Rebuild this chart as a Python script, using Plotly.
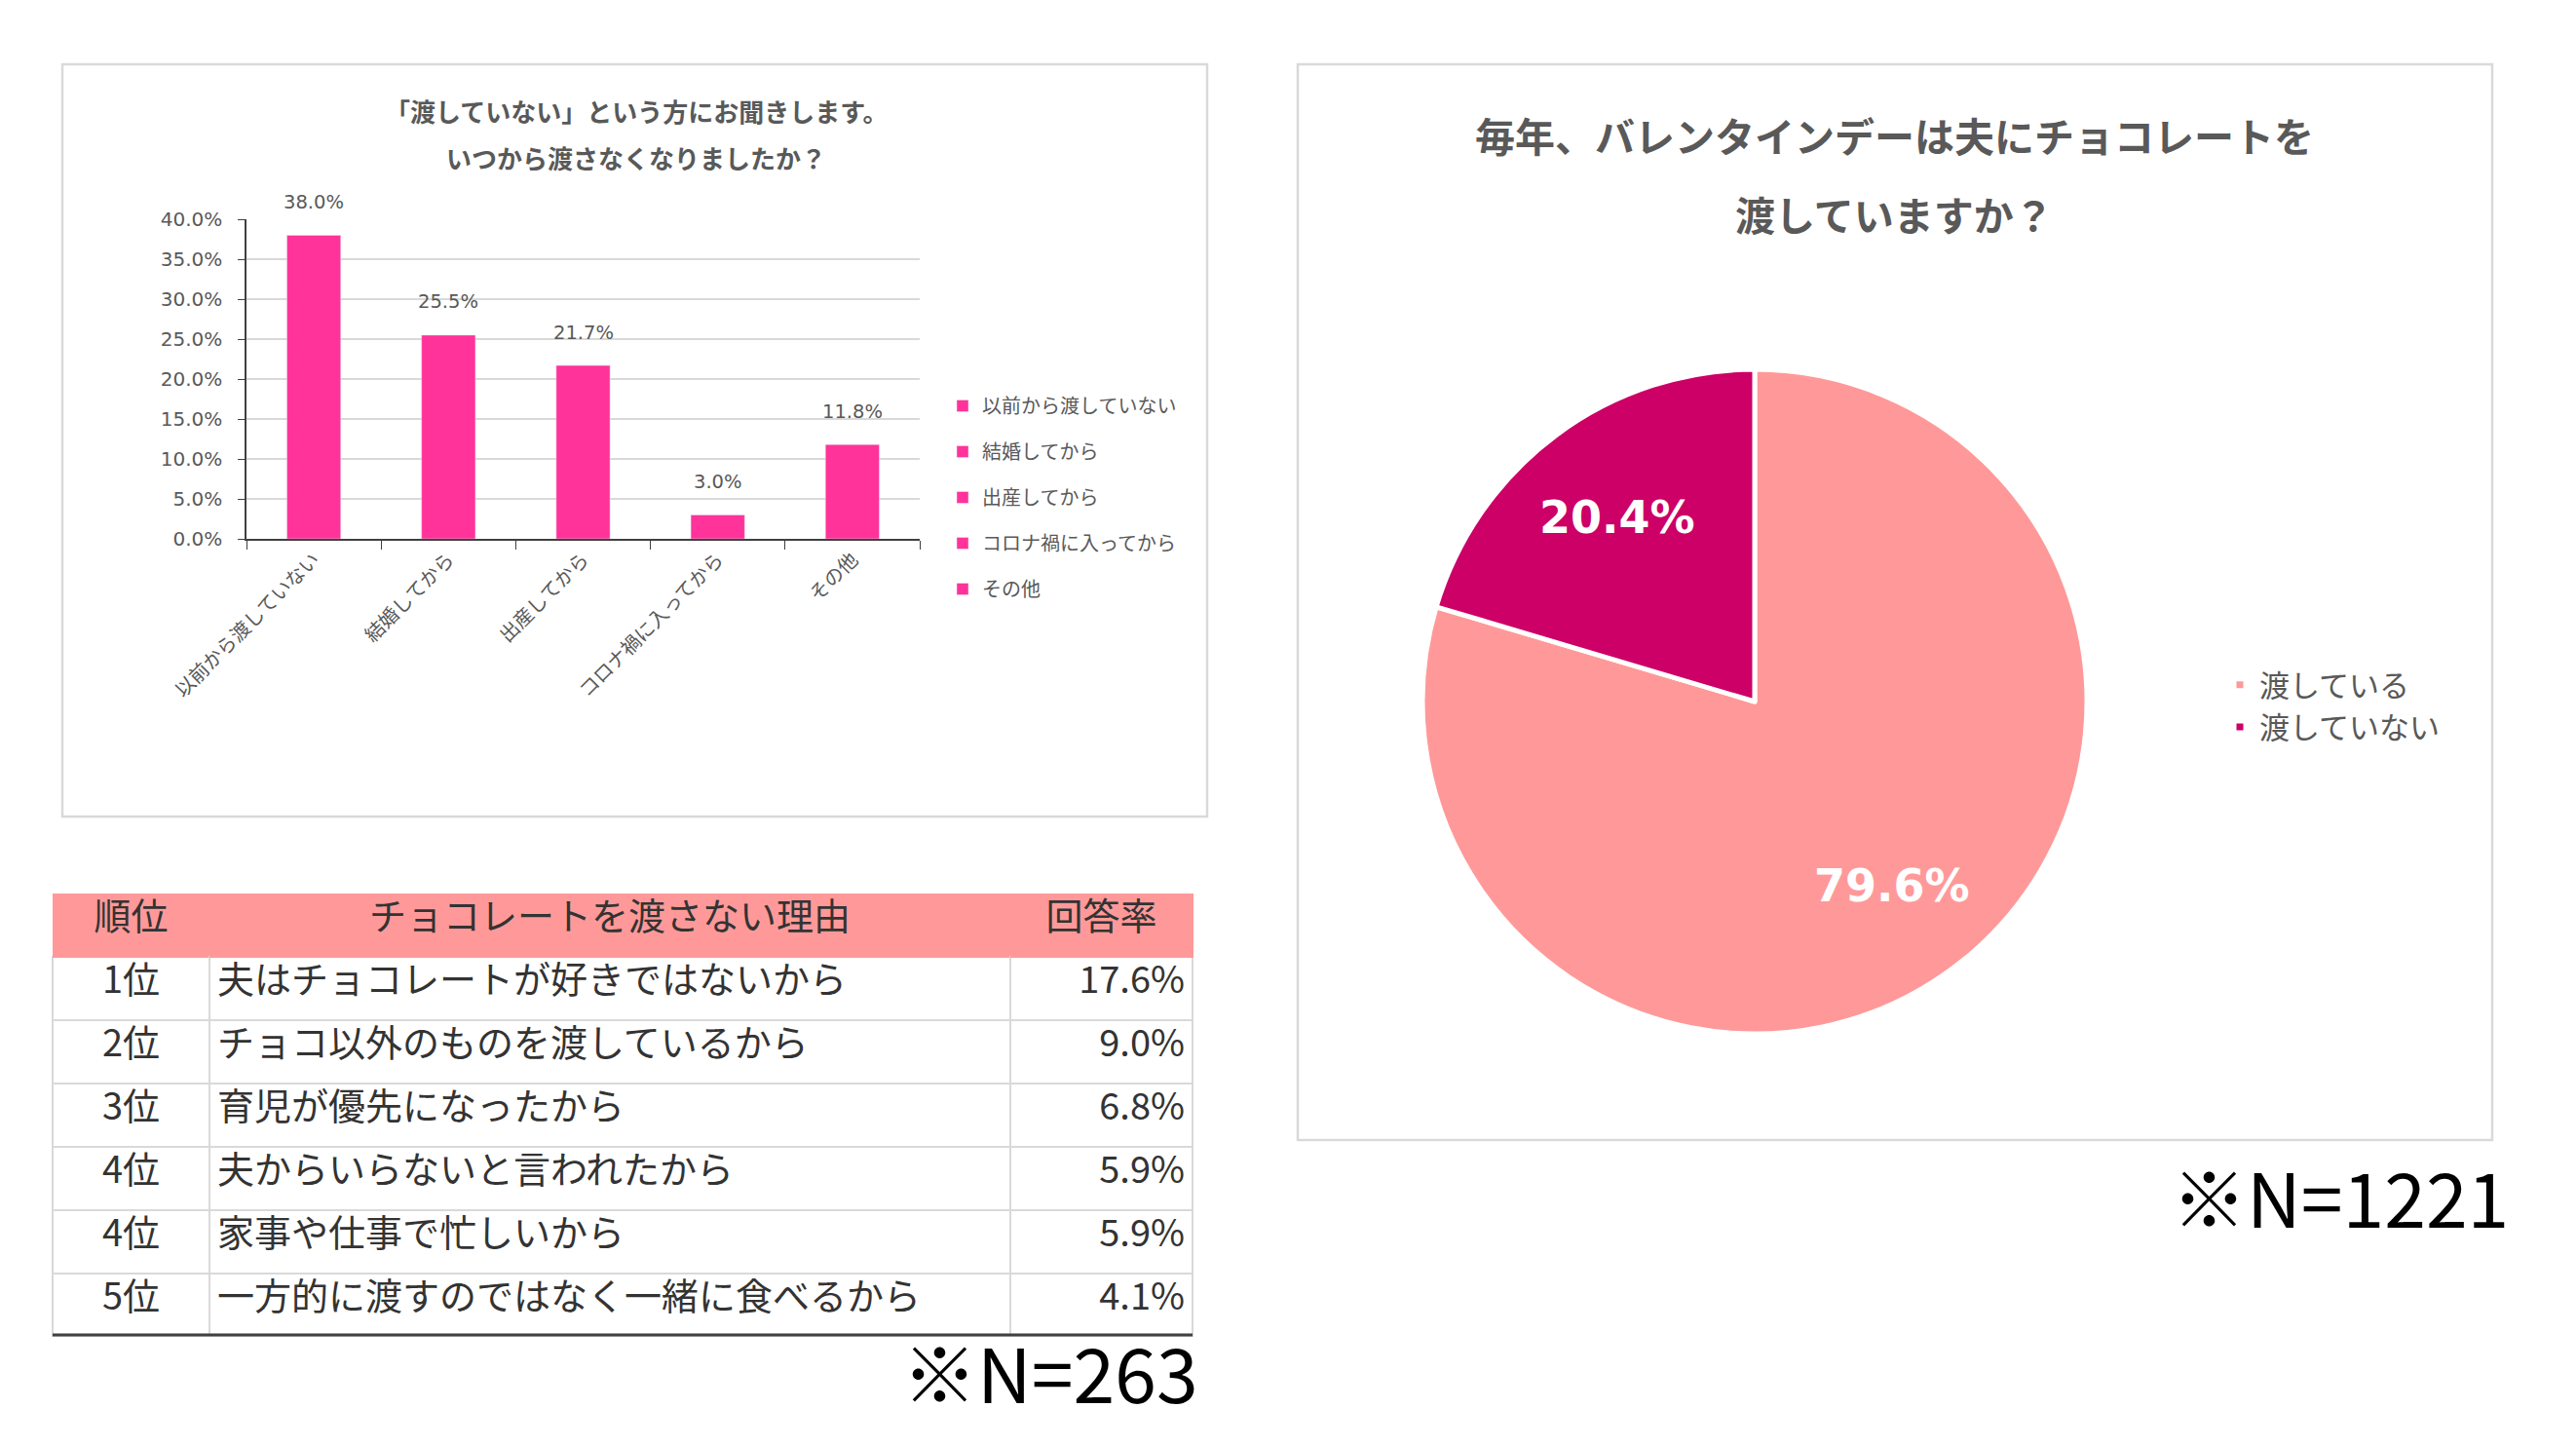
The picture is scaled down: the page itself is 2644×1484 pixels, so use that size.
import math
import plotly.graph_objects as go

W, H = 2644, 1484
OFF = 8  # page body margin the figure is drawn with

# ---------------- data ----------------
bar_title_lines = ["「渡していない」という方にお聞きします。", "いつから渡さなくなりましたか？"]
bar_categories = ["以前から渡していない", "結婚してから", "出産してから", "コロナ禍に入ってから", "その他"]
bar_values = [38.0, 25.5, 21.7, 3.0, 11.8]

pie_title_lines = ["毎年、バレンタインデーは夫にチョコレートを", "渡していますか？"]
pie_labels = ["渡している", "渡していない"]
pie_values = [79.6, 20.4]
pie_note = "※N=1221"

table_header = ["順位", "チョコレートを渡さない理由", "回答率"]
table_ranks = ["1位", "2位", "3位", "4位", "4位", "5位"]
table_reasons = [
    "夫はチョコレートが好きではないから",
    "チョコ以外のものを渡しているから",
    "育児が優先になったから",
    "夫からいらないと言われたから",
    "家事や仕事で忙しいから",
    "一方的に渡すのではなく一緒に食べるから",
]
table_rates = ["17.6%", "9.0%", "6.8%", "5.9%", "5.9%", "4.1%"]
table_note = "※N=263"

# ---------------- helpers ----------------
FONT = "Noto Sans CJK JP"
NUMFONT = "DejaVu Sans, Noto Sans CJK JP"
GRAY = "#595959"


def px(x):
    return (x - OFF) / W


def py(y):
    return 1 - (y - OFF) / H


fig = go.Figure()

# bar chart: one trace per category so each gets its own legend entry
for cat, val in zip(bar_categories, bar_values):
    fig.add_trace(go.Bar(
        x=[cat], y=[val], name=cat, width=0.4,
        marker=dict(color="#FF3399"),
        legend="legend", legendgroup=cat,
        xaxis="x", yaxis="y", hoverinfo="skip",
    ))
    # value label, placed through the axis scales above the bar
    fig.add_annotation(x=cat, y=val, xref="x", yref="y", text=f"{val:.1f}%",
                       showarrow=False, yanchor="middle", yshift=34,
                       font=dict(size=19.5, color=GRAY, family=NUMFONT))

# pie
PIE_CX, PIE_CY, PIE_R = 1801, 720, 341
fig.add_trace(go.Pie(
    labels=pie_labels, values=pie_values, sort=False, direction="clockwise",
    rotation=0,
    marker=dict(colors=["#FF9999", "#CC0066"], line=dict(color="white", width=5)),
    textinfo="none",
    domain=dict(x=[px(PIE_CX - PIE_R), px(PIE_CX + PIE_R)],
                y=[py(PIE_CY + PIE_R), py(PIE_CY - PIE_R)]),
    legend="legend2", hoverinfo="skip",
))
# slice labels at each slice's mid-angle (derived from the values)
total = sum(pie_values)
cum = 0.0
for v in pie_values:
    mid = (cum + v / 2) / total * 2 * math.pi
    cum += v
    rr = 0.69 * PIE_R
    fig.add_annotation(text=f"<b>{v:.1f}%</b>", xref="paper", yref="paper",
                       x=px(PIE_CX + rr * math.sin(mid)), y=py(PIE_CY - rr * math.cos(mid)),
                       xanchor="center", yanchor="middle", showarrow=False,
                       font=dict(size=46, color="white", family=NUMFONT))

# table
fig.add_trace(go.Table(
    domain=dict(x=[px(54), px(1224)], y=[py(1372), py(917)]),
    columnwidth=[161, 822, 187],
    header=dict(
        values=table_header, height=65,
        fill_color="#FF9999", line=dict(color="#FF9999", width=1),
        align=["center", "center", "center"],
        font=dict(size=38, color="#333333", family=FONT),
    ),
    cells=dict(
        values=[table_ranks, table_reasons, table_rates], height=65,
        fill_color="white", line=dict(color="#D9D9D9", width=2),
        align=["center", "left", "right"],
        font=dict(size=38, color="#333333", family=FONT),
    ),
))

fig.update_layout(
    width=W, height=H,
    margin=dict(l=0, r=0, t=0, b=0, autoexpand=False),
    paper_bgcolor="white", plot_bgcolor="white",
    font=dict(family=FONT, color=GRAY),
    barmode="overlay",
    xaxis=dict(
        domain=[px(253), px(944)],
        anchor="y", automargin=False,
        showline=True, linecolor="#404040", linewidth=1.5,
        ticks="outside", tickson="boundaries", ticklen=9, tickcolor="#404040",
        tickangle=-45, tickfont=dict(size=20, color=GRAY, family=FONT),
        showgrid=False,
    ),
    yaxis=dict(
        domain=[py(553), py(225)],
        anchor="x", automargin=False,
        range=[0, 40], dtick=5, tickformat=".1f", ticksuffix="%",
        showline=True, linecolor="#404040", linewidth=1.5,
        ticks="outside", ticklen=7, tickcolor="#404040",
        ticklabelstandoff=12,
        showgrid=True, gridcolor="#D9D9D9", gridwidth=1.5,
        tickfont=dict(size=20, color=GRAY, family=NUMFONT),
        zeroline=False,
    ),
    legend=dict(
        x=px(968), y=py(397), xanchor="left", yanchor="top",
        font=dict(size=20, color=GRAY), tracegroupgap=18,
        bgcolor="rgba(0,0,0,0)",
    ),
    legend2=dict(
        x=px(2279), y=py(676), xanchor="left", yanchor="top",
        font=dict(size=31, color=GRAY),
        bgcolor="rgba(0,0,0,0)",
    ),
    showlegend=True,
)

# panel borders
fig.add_shape(type="rect", xref="paper", yref="paper",
              x0=px(64), x1=px(1239), y0=py(838), y1=py(66),
              line=dict(color="#D9D9D9", width=2.5))
fig.add_shape(type="rect", xref="paper", yref="paper",
              x0=px(1332), x1=px(2558), y0=py(1170), y1=py(66),
              line=dict(color="#D9D9D9", width=2.5))
# table bottom rule
fig.add_shape(type="line", xref="paper", yref="paper",
              x0=px(54), x1=px(1224), y0=py(1370), y1=py(1370),
              line=dict(color="#404040", width=3))

# titles and notes
for line, yy in zip(bar_title_lines, [113, 162]):
    fig.add_annotation(text="<b>" + line + "</b>", xref="paper", yref="paper",
                       x=px(653), y=py(yy), xanchor="center", yanchor="middle",
                       showarrow=False, font=dict(size=26, color=GRAY))
for line, yy in zip(pie_title_lines, [138, 219]):
    fig.add_annotation(text="<b>" + line + "</b>", xref="paper", yref="paper",
                       x=px(1944), y=py(yy), xanchor="center", yanchor="middle",
                       showarrow=False, font=dict(size=41, color=GRAY))
fig.add_annotation(text=table_note, xref="paper", yref="paper",
                   x=px(1232), y=py(1406), xanchor="right", yanchor="middle",
                   showarrow=False, font=dict(size=77, color="black"))
fig.add_annotation(text=pie_note, xref="paper", yref="paper",
                   x=px(2577), y=py(1226), xanchor="right", yanchor="middle",
                   showarrow=False, font=dict(size=77, color="black"))

fig.write_html("out.html")
